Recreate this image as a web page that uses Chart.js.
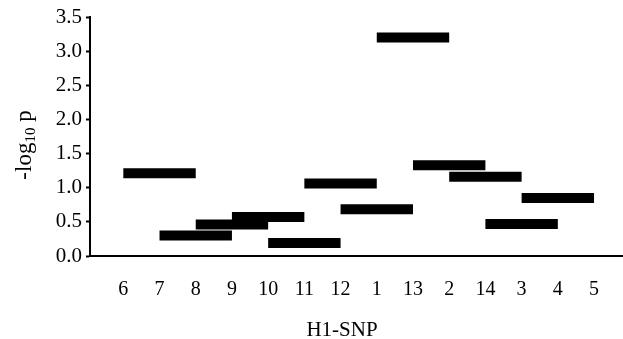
<!DOCTYPE html>
<html>
<head>
<meta charset="utf-8">
<script src="https://cdn.jsdelivr.net/npm/chart.js@4"></script>
<style>
  html, body { margin: 0; padding: 0; background: #fff; }
  #wrap { width: 623px; height: 339px; }
</style>
</head>
<body>
<div id="wrap"><canvas id="chart"></canvas></div>
<script>
// SNP order along the x axis
const snpLabels = ['6', '7', '8', '9', '10', '11', '12', '1', '13', '2', '14', '3', '4', '5'];
// each window covers 3 consecutive SNPs, starting at window index i
const windowSize = 3;
// -log10 p for each sliding window
const windowLogP = [1.21, 0.30, 0.46, 0.57, 0.19, 1.06, 0.685, 3.20, 1.33, 1.16, 0.47, 0.85];
const yTicks = [0, 0.5, 1, 1.5, 2, 2.5, 3, 3.5];

const serif = '"Liberation Serif", "Times New Roman", serif';

// one thick segment per window
const datasets = windowLogP.map(function (v, i) {
    return {
        data: [{ x: i, y: v }, { x: i + windowSize - 1, y: v }],
        borderColor: '#000',
        borderWidth: 10,
        borderCapStyle: 'butt',
        pointRadius: 0,
        fill: false
    };
});

// axis titles, drawn by hand because of the subscript
const axisTitles = {
    id: 'axisTitles',
    afterDraw: function (chart) {
        const ctx = chart.ctx;
        ctx.save();
        ctx.fillStyle = '#000';
        ctx.textBaseline = 'alphabetic';

        // x title
        ctx.font = '21px ' + serif;
        ctx.textAlign = 'center';
        ctx.fillText('H1-SNP', 342, 336);

        // y title: -log10 p, rotated
        ctx.translate(31, 145);
        ctx.rotate(-Math.PI / 2);
        ctx.textAlign = 'left';
        const big = '23px ' + serif, small = '15px ' + serif;
        ctx.font = big;
        const w1 = ctx.measureText('-log').width;
        const w3 = ctx.measureText(' p').width;
        ctx.font = small;
        const w2 = ctx.measureText('10').width;
        let x = -(w1 + w2 + w3) / 2;
        ctx.font = big;
        ctx.fillText('-log', x, 0);
        x += w1;
        ctx.font = small;
        ctx.fillText('10', x, 4);
        x += w2;
        ctx.font = big;
        ctx.fillText(' p', x, 0);
        ctx.restore();
    }
};

new Chart(document.getElementById('chart'), {
    type: 'line',
    data: { datasets: datasets },
    options: {
        responsive: true,
        maintainAspectRatio: false,
        animation: false,
        layout: { padding: { top: 17, left: 0, right: 0, bottom: 0 } },
        plugins: {
            legend: { display: false },
            tooltip: { enabled: false }
        },
        scales: {
            x: {
                type: 'linear',
                min: -0.92,
                max: 13.8,
                afterBuildTicks: function (axis) {
                    axis.ticks = snpLabels.map(function (_, i) { return { value: i }; });
                },
                afterFit: function (axis) { axis.height = 83; },
                ticks: {
                    autoSkip: false,
                    maxRotation: 0,
                    padding: 22,
                    color: '#000',
                    font: { family: serif, size: 20 },
                    callback: function (value) { return snpLabels[value]; }
                },
                grid: { drawOnChartArea: false, drawTicks: false },
                border: { color: '#000', width: 2 }
            },
            y: {
                min: 0,
                max: 3.5,
                afterBuildTicks: function (axis) {
                    axis.ticks = yTicks.map(function (v) { return { value: v }; });
                },
                afterFit: function (axis) { axis.width = 90; },
                ticks: {
                    padding: 4,
                    color: '#000',
                    font: { family: serif, size: 21 },
                    callback: function (value) { return value.toFixed(1); }
                },
                grid: { drawOnChartArea: false, tickLength: 4, color: '#000', tickWidth: 2 },
                border: { color: '#000', width: 2 }
            }
        }
    },
    plugins: [axisTitles]
});
</script>
</body>
</html>
